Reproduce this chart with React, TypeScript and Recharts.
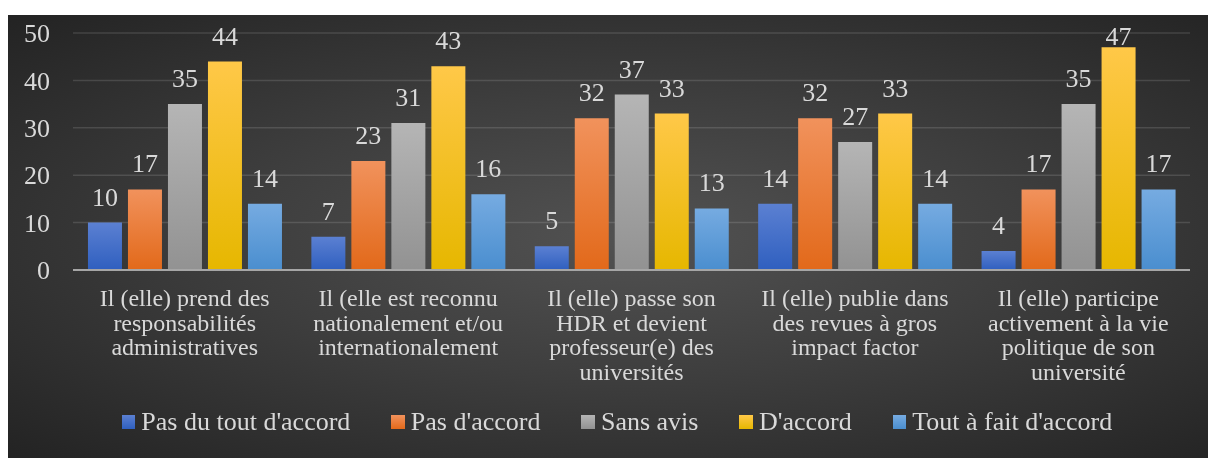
import React from "react";
import {
    BarChart,
    Bar,
    XAxis,
    YAxis,
    CartesianGrid,
    Legend,
    LabelList,
} from "recharts";

const categories = [
    ["Il (elle) prend des", "responsabilités", "administratives"],
    ["Il (elle est reconnu", "nationalement et/ou", "internationalement"],
    ["Il (elle) passe son", "HDR et devient", "professeur(e) des", "universités"],
    ["Il (elle) publie dans", "des revues à gros", "impact factor"],
    ["Il (elle) participe", "activement à la vie", "politique de son", "université"],
];

const pasDuTout = [10, 7, 5, 14, 4];
const pasDaccord = [17, 23, 32, 32, 17];
const sansAvis = [35, 31, 37, 27, 35];
const daccord = [44, 43, 33, 33, 47];
const toutAFait = [14, 16, 13, 14, 17];

const yTicks = [0, 10, 20, 30, 40, 50];

const series = [
    { key: "a", name: "Pas du tout d'accord", values: pasDuTout, top: "#5b80d2", bottom: "#2f5fbf" },
    { key: "b", name: "Pas d'accord", values: pasDaccord, top: "#f1925c", bottom: "#e2691a" },
    { key: "c", name: "Sans avis", values: sansAvis, top: "#b5b5b5", bottom: "#929292" },
    { key: "d", name: "D'accord", values: daccord, top: "#ffc848", bottom: "#e6b700" },
    { key: "e", name: "Tout à fait d'accord", values: toutAFait, top: "#76abe1", bottom: "#4a8ecf" },
];

const data = categories.map((lines, i) => {
    const row: Record<string, any> = { name: i, lines };
    series.forEach((s) => (row[s.key] = s.values[i]));
    return row;
});

const FONT = "'Liberation Serif', 'Times New Roman', serif";
const TEXT = "#d9d9d9";

function CategoryTick(props: any) {
    const { x, y, payload } = props;
    const lines: string[] = categories[payload.value];
    return (
        <text
            x={x}
            y={y + 36}
            textAnchor="middle"
            fill={TEXT}
            fontSize={24}
            fontFamily={FONT}
        >
            {lines.map((l, i) => (
                <tspan key={i} x={x} dy={i === 0 ? 0 : 24.7}>
                    {l}
                </tspan>
            ))}
        </text>
    );
}

// labels sit above the bar, but never higher than just under the top of the plot
function ValueLabel(props: any) {
    const { x, y, width, value } = props;
    const baseline = Math.max(y - 17, 30);
    return (
        <text
            x={x + width / 2}
            y={baseline}
            textAnchor="middle"
            fill={TEXT}
            fontSize={26}
            fontFamily={FONT}
        >
            {value}
        </text>
    );
}

function LegendBox() {
    return (
        <div
            style={{
                display: "flex",
                justifyContent: "center",
                alignItems: "center",
                fontFamily: FONT,
                fontSize: 26,
                lineHeight: "30px",
                color: TEXT,
                gap: 41,
                whiteSpace: "nowrap",
            }}
        >
            {series.map((s) => (
                <div key={s.key} style={{ display: "flex", alignItems: "center" }}>
                    <span
                        style={{
                            width: 13.5,
                            height: 13.5,
                            marginRight: 6,
                            display: "inline-block",
                            background: `linear-gradient(${s.top}, ${s.bottom})`,
                        }}
                    />
                    <span>{s.name}</span>
                </div>
            ))}
        </div>
    );
}

export default function App() {
    return (
        <div
            style={{
                position: "fixed",
                left: 8,
                top: 15,
                width: 1200,
                height: 443,
                background:
                    "radial-gradient(ellipse at 52% 50%, #525252 0%, #3e3e3e 45%, #232323 100%)",
            }}
        >
            <BarChart
                width={1200}
                height={443}
                data={data}
                margin={{ top: 18, right: 18, bottom: 0, left: 0 }}
                barCategoryGap="6.7%"
                barGap={6}
            >
                <defs>
                    {series.map((s) => (
                        <linearGradient key={s.key} id={`g-${s.key}`} x1="0" y1="0" x2="0" y2="1">
                            <stop offset="0%" stopColor={s.top} />
                            <stop offset="100%" stopColor={s.bottom} />
                        </linearGradient>
                    ))}
                </defs>
                <CartesianGrid
                    vertical={false}
                    stroke="#ffffff"
                    strokeOpacity={0.13}
                    strokeWidth={1.5}
                />
                <YAxis
                    width={65}
                    domain={[0, 50]}
                    ticks={yTicks}
                    axisLine={false}
                    tickLine={false}
                    tickSize={0}
                    tickMargin={23}
                    tick={{ fill: TEXT, fontSize: 26, fontFamily: FONT }}
                />
                <XAxis
                    dataKey="name"
                    height={150}
                    interval={0}
                    tickLine={false}
                    tickSize={0}
                    tickMargin={0}
                    axisLine={{ stroke: "#a6a6a6", strokeWidth: 2 }}
                    tick={<CategoryTick />}
                />
                <Legend
                    verticalAlign="bottom"
                    height={38}
                    content={<LegendBox />}
                    wrapperStyle={{ top: 392, left: 9, width: 1200, bottom: "auto" }}
                />
                {series.map((s) => (
                    <Bar
                        key={s.key}
                        dataKey={s.key}
                        name={s.name}
                        fill={`url(#g-${s.key})`}
                        isAnimationActive={false}
                    >
                        <LabelList dataKey={s.key} content={<ValueLabel />} />
                    </Bar>
                ))}
            </BarChart>
        </div>
    );
}
